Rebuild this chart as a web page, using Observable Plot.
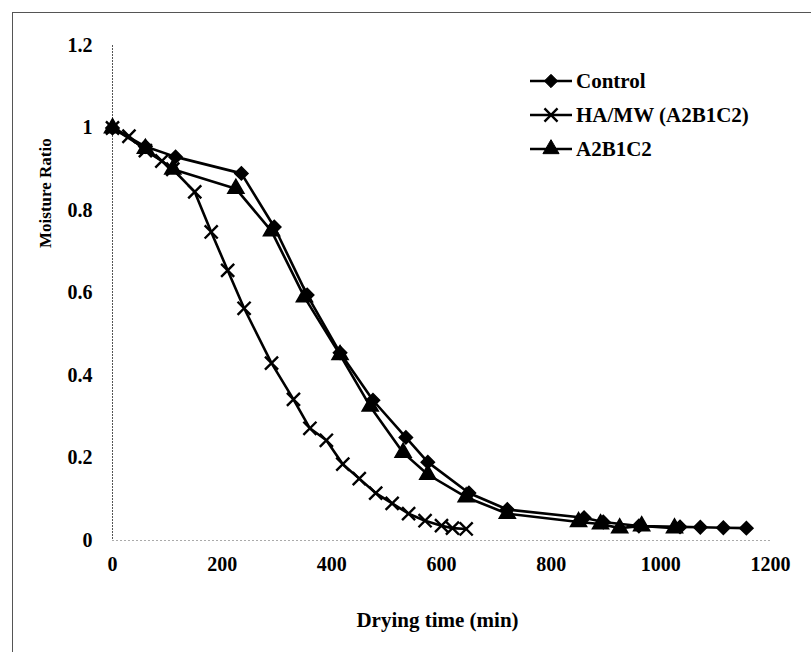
<!DOCTYPE html>
<html>
<head>
<meta charset="utf-8">
<script src="https://cdn.jsdelivr.net/npm/d3@7"></script>
<script src="https://cdn.jsdelivr.net/npm/@observablehq/plot@0.6"></script>
<style>
  html, body { margin: 0; padding: 0; background: #fff; }
  #wrap { position: relative; width: 811px; height: 652px; overflow: hidden; }
  #frame { position: absolute; left: 12px; top: 12px; width: 900px; height: 900px;
           border-left: 1px solid #555; border-top: 1px solid #555; pointer-events: none; }
  #legend { position: absolute; left: 528px; top: 64px; font-family: "Liberation Serif", "Times New Roman", serif;
            font-weight: bold; font-size: 21px; color: #000; }
  .row { display: flex; align-items: center; height: 34px; }
  .row svg { margin-right: 2px; }
</style>
</head>
<body>
<div id="wrap">
  <div id="chart"></div>
  <div id="frame"></div>
  <div id="legend"></div>
</div>
<script>
// ---- data ----
const seriesNames = ["Control", "HA/MW (A2B1C2)", "A2B1C2"];
const seriesSymbols = ["diamond2", "times", "triangle"];

const controlTime = [0, 60, 115, 235, 295, 355, 415, 475, 535, 575, 650, 720, 860, 895, 960, 1035, 1072, 1114, 1156];
const controlMR   = [1.0, 0.955, 0.93, 0.89, 0.76, 0.595, 0.455, 0.34, 0.25, 0.19, 0.115, 0.075, 0.055, 0.045, 0.035, 0.033, 0.032, 0.031, 0.03];

const hamwTime = [0, 30, 60, 90, 110, 150, 180, 210, 240, 290, 330, 360, 390, 420, 450, 480, 510, 540, 570, 600, 620, 645];
const hamwMR   = [1.0, 0.98, 0.945, 0.92, 0.9, 0.845, 0.748, 0.655, 0.563, 0.43, 0.342, 0.272, 0.243, 0.185, 0.15, 0.115, 0.09, 0.065, 0.048, 0.036, 0.03, 0.028];

const a2Time = [0, 60, 110, 225, 290, 350, 415, 470, 530, 575, 645, 720, 850, 890, 925, 965, 1025];
const a2MR   = [1.0, 0.95, 0.9, 0.853, 0.75, 0.59, 0.45, 0.325, 0.213, 0.16, 0.105, 0.065, 0.045, 0.04, 0.03, 0.035, 0.03];

const xTicks = [0, 200, 400, 600, 800, 1000, 1200];
const yTicks = [0, 0.2, 0.4, 0.6, 0.8, 1, 1.2];

// ---- build table ----
const table = [];
[[controlTime, controlMR], [hamwTime, hamwMR], [a2Time, a2MR]].forEach(([t, v], i) => {
  t.forEach((tt, j) => table.push({series: seriesNames[i], time: tt, mr: v[j]}));
});

const font = '"Liberation Serif", "Times New Roman", serif';

const chart = Plot.plot({
  width: 811,
  height: 652,
  marginLeft: 112,
  marginRight: 41,
  marginTop: 45,
  marginBottom: 112,
  style: {fontFamily: font, fontSize: "20px", fontWeight: "bold", color: "#000", background: "#fff"},
  x: {domain: [0, 1200], ticks: xTicks},
  y: {domain: [0, 1.2], ticks: yTicks},
  symbol: {domain: seriesNames, range: seriesSymbols},
  marks: [
    Plot.ruleX([0], {stroke: "#555", strokeWidth: 1, strokeDasharray: "2,1"}),
    Plot.ruleY([0], {stroke: "#aaa", strokeWidth: 1, strokeDasharray: "2,2"}),
    Plot.axisX({ticks: xTicks, tickSize: 0, tickPadding: 16, label: null, fontSize: 20,
                tickFormat: d => String(d)}),
    Plot.axisY({ticks: yTicks, tickSize: 0, tickPadding: 20, label: null, fontSize: 20,
                tickFormat: d => String(+d.toFixed(1))}),
    Plot.line(table, {x: "time", y: "mr", z: "series", stroke: "#000", strokeWidth: 2.6}),
    Plot.dot(table.filter(d => d.series !== "HA/MW (A2B1C2)"),
             {x: "time", y: "mr", symbol: "series", fill: "#000", stroke: "#000", r: 6}),
    Plot.dot(table.filter(d => d.series === "HA/MW (A2B1C2)"),
             {x: "time", y: "mr", symbol: "series", stroke: "#000", strokeWidth: 2.4, r: 6}),
    Plot.text(["Drying time (min)"], {frameAnchor: "bottom", dy: 80, dx: -4, fontSize: 21, fontWeight: "bold", lineAnchor: "middle"}),
    Plot.text(["Moisture Ratio"], {frameAnchor: "left", dx: -67, dy: -45, rotate: -90, fontSize: 17, fontWeight: "bold", lineAnchor: "middle"})
  ]
});
document.getElementById("chart").appendChild(chart);

// ---- legend ----
const legend = d3.select("#legend");
const symMap = {diamond2: d3.symbolDiamond2 || d3.symbolDiamond, times: d3.symbolTimes, triangle: d3.symbolTriangle};
seriesNames.forEach((name, i) => {
  const row = legend.append("div").attr("class", "row");
  const svg = row.append("svg").attr("width", 46).attr("height", 20);
  svg.append("line").attr("x1", 2).attr("x2", 44).attr("y1", 10).attr("y2", 10)
     .attr("stroke", "#000").attr("stroke-width", 2.6);
  const sym = symMap[seriesSymbols[i]];
  const isStroke = seriesSymbols[i] === "times";
  svg.append("path").attr("transform", "translate(23,10)")
     .attr("d", d3.symbol(sym, 113)())
     .attr("fill", isStroke ? "none" : "#000")
     .attr("stroke", "#000").attr("stroke-width", isStroke ? 2.4 : 1);
  row.append("span").text(name);
});
</script>
</body>
</html>
